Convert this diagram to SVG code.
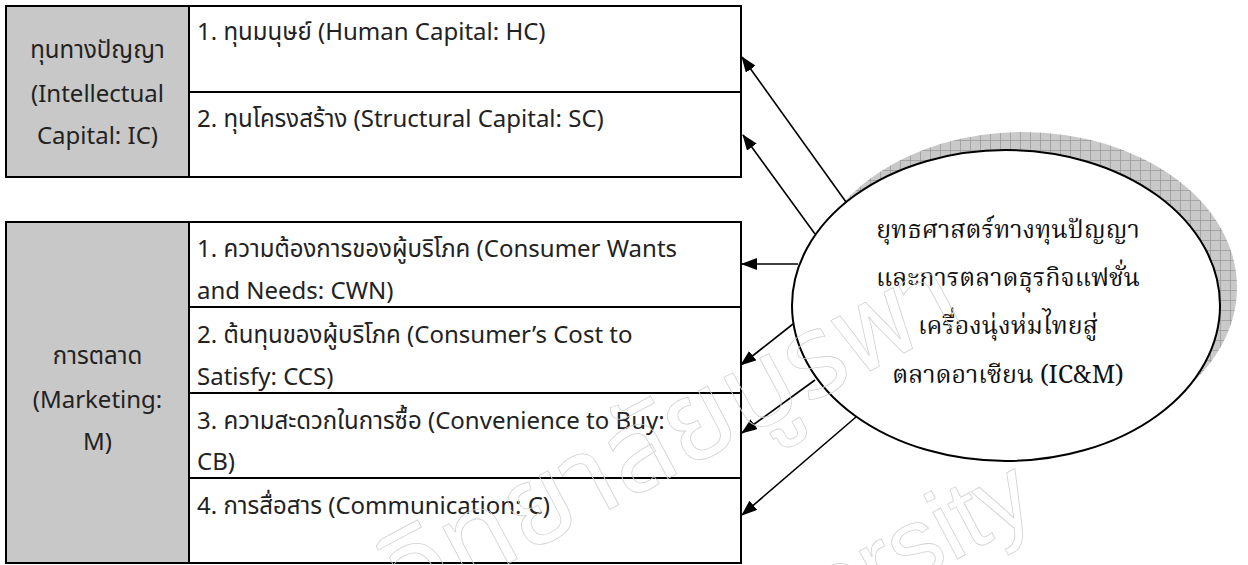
<svg xmlns="http://www.w3.org/2000/svg" width="1248" height="565" viewBox="0 0 1248 565">
  <style>
    .head { fill: #c8c8c8; stroke: #000; stroke-width: 2; }
    .cell { fill: #fff; stroke: #000; stroke-width: 2; }
    .lbl { font-family: "Noto Sans Thai", "Noto Sans", "DejaVu Sans", sans-serif; font-size: 24px; fill: #222; }
    .mid { text-anchor: middle; }
    .core { font-family: "Noto Serif Thai", "Liberation Serif", "DejaVu Serif", serif; font-size: 25px; fill: #111; text-anchor: middle; }
    .wire { stroke: #000; stroke-width: 1.6; fill: none; marker-end: url(#tip); }
    .wm { fill: none; stroke: #d2d2d2; stroke-width: 0.8; text-anchor: end; }
  </style>
  <defs>
    <marker id="tip" viewBox="0 0 16 12" refX="15" refY="6" markerWidth="16" markerHeight="12" markerUnits="userSpaceOnUse" orient="auto">
      <path d="M0,0 L16,6 L0,12 Z" fill="#000"/>
    </marker>
    <pattern id="hatch" width="10" height="10" patternUnits="userSpaceOnUse">
      <rect width="10" height="10" fill="#c9c9c9"/>
      <path d="M0,0.5 H10 M0.5,0 V10" stroke="#9a9a9a" stroke-width="0.8"/>
    </pattern>
  </defs>

  <rect width="1248" height="565" fill="#fff"/>

  <!-- Intellectual capital block -->
  <g id="ic">
    <rect class="head" x="6" y="6" width="183" height="171"/>
    <rect class="cell" x="189" y="6" width="552" height="86"/>
    <rect class="cell" x="189" y="92" width="552" height="85"/>
    <text class="lbl mid" x="97.5" y="58">ทุนทางปัญญา</text>
    <text class="lbl mid" x="97.5" y="102">(Intellectual</text>
    <text class="lbl mid" x="97.5" y="144">Capital: IC)</text>
  </g>
  <g id="hc">
    <text class="lbl" x="197" y="40">1. ทุนมนุษย์ (Human Capital: HC)</text>
  </g>
  <g id="sc">
    <text class="lbl" x="197" y="127">2. ทุนโครงสร้าง (Structural Capital: SC)</text>
  </g>

  <!-- Marketing block -->
  <g id="m">
    <rect class="head" x="6" y="222" width="183" height="341"/>
    <rect class="cell" x="189" y="222" width="552" height="85"/>
    <rect class="cell" x="189" y="307" width="552" height="86"/>
    <rect class="cell" x="189" y="393" width="552" height="85"/>
    <rect class="cell" x="189" y="478" width="552" height="85"/>
    <text class="lbl mid" x="97.5" y="364">การตลาด</text>
    <text class="lbl mid" x="97.5" y="408">(Marketing:</text>
    <text class="lbl mid" x="97.5" y="450">M)</text>
  </g>
  <g id="cwn">
    <text class="lbl" x="197" y="257">1. ความต้องการของผู้บริโภค (Consumer Wants</text>
    <text class="lbl" x="197" y="299">and Needs: CWN)</text>
  </g>
  <g id="ccs">
    <text class="lbl" x="197" y="343">2. ต้นทุนของผู้บริโภค (Consumer’s Cost to</text>
    <text class="lbl" x="197" y="385">Satisfy: CCS)</text>
  </g>
  <g id="cb">
    <text class="lbl" x="197" y="429">3. ความสะดวกในการซื้อ (Convenience to Buy:</text>
    <text class="lbl" x="197" y="470">CB)</text>
  </g>
  <g id="c">
    <text class="lbl" x="197" y="514">4. การสื่อสาร (Communication: C)</text>
  </g>

  <!-- Strategy ellipse with hatched drop shadow -->
  <g id="icm">
    <ellipse cx="1023" cy="287.5" rx="214" ry="155.5" fill="url(#hatch)"/>
    <ellipse cx="1006" cy="305.5" rx="214" ry="155.5" fill="#fff" stroke="#000" stroke-width="2"/>
    <text class="core" x="1008" y="238">ยุทธศาสตร์ทางทุนปัญญา</text>
    <text class="core" x="1008" y="286">และการตลาดธุรกิจแฟชั่น</text>
    <text class="core" x="1008" y="334">เครื่องนุ่งห่มไทยสู่</text>
    <text class="core" x="1008" y="383">ตลาดอาเซียน (IC&amp;M)</text>
  </g>

  <!-- Connectors -->
  <g id="connectors">
    <line class="wire" x1="846" y1="202" x2="742" y2="57"/>
    <line class="wire" x1="815" y1="234" x2="743" y2="135"/>
    <line class="wire" x1="798" y1="264" x2="742" y2="264"/>
    <line class="wire" x1="793" y1="324" x2="741" y2="365"/>
    <line class="wire" x1="815" y1="380" x2="742" y2="433"/>
    <line class="wire" x1="856" y1="417" x2="742" y2="515"/>
  </g>

  <!-- faint outlined diagonal watermark laid over the page -->
  <g id="watermark">
    <text class="wm" font-family="'Noto Sans Thai', 'Noto Sans', sans-serif" font-size="115" transform="translate(968,319) rotate(-28)">มหาวิทยาลัยบูรพา</text>
    <text class="wm" font-family="'Liberation Sans', sans-serif" font-size="100" transform="translate(1040,515) rotate(-28)">Burapha University</text>
  </g>
</svg>
